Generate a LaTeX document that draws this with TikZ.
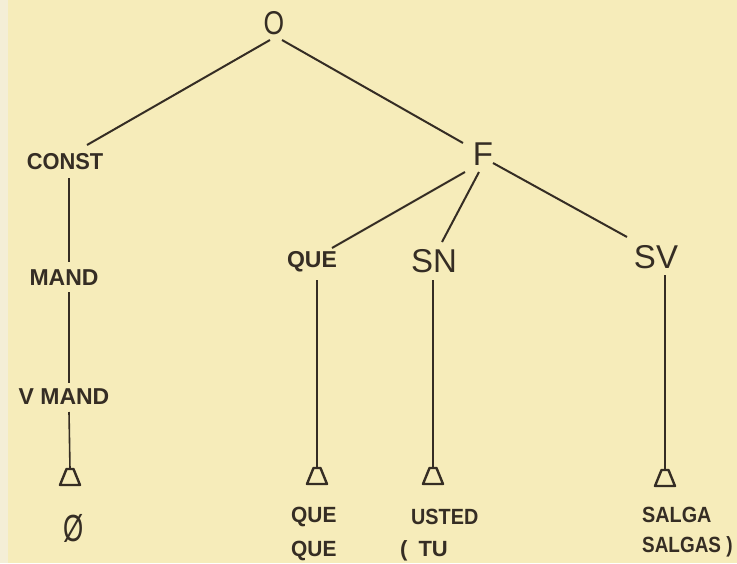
\documentclass[tikz,border=0pt]{standalone}
\usepackage{fontspec}
\setmainfont{Liberation Sans}
\usetikzlibrary{calc}
\definecolor{paper}{HTML}{F6ECBA}
\definecolor{paperedge}{HTML}{F4EED6}
\definecolor{ink}{HTML}{352D24}
\newcommand\mytri[2]{%
  \coordinate (#1) at (#2);
  \draw[tribox] ($(#1)+(-3.5,0)$) -- ($(#1)+(3.5,0)$) -- ($(#1)+(10,16)$) -- ($(#1)+(-10,16)$) -- cycle;}
\begin{document}
\begin{tikzpicture}[x=1pt,y=-1pt,
  big/.style={font=\fontsize{33}{33}\selectfont, text=ink, inner sep=0pt},
  mid/.style={font=\bfseries\fontsize{23}{23}\selectfont, text=ink, inner sep=0pt},
  leaf/.style={font=\bfseries\fontsize{22}{22}\selectfont, text=ink, inner sep=0pt, anchor=west},
  branch/.style={draw=ink, line width=2pt},
  stem/.style={draw=ink, line width=1.6pt},
  tribox/.style={draw=ink, line width=2.4pt, line join=round}]
\fill[paper] (0,0) rectangle (737,563);
\fill[paperedge] (0,0) rectangle (8,563);
\useasboundingbox (0,0) rectangle (737,563);

\node[big] (O) at (274,23) {\scalebox{0.8}[1]{O}};
\node[mid] (CONST) at (65,162) {\scalebox{0.95}[1]{CONST}};
\node[big] (F) at (483,154) {F};
\node[mid] (QUE) at (312,262) {QUE};
\node[big] (SN) at (434,261) {SN};
\node[big] (SV) at (656,257) {SV};
\node[mid] (MAND) at (64,278) {MAND};
\node[mid] (VMAND) at (64,397) {V MAND};

\mytri{t1}{70,469}
\mytri{t2}{317,468}
\mytri{t3}{433,468}
\mytri{t4}{665,470}

\node[font=\fontsize{36}{36}\selectfont, text=ink, inner sep=0pt] (null) at (74,528) {\scalebox{0.72}[1.05]{Ø}};

\node[leaf] (q1) at (291,517) {\scalebox{0.95}[1]{QUE}};
\node[leaf] (q2) at (291,551) {\scalebox{0.95}[1]{QUE}};
\node[leaf] (u1) at (411,517) {\scalebox{0.9}[1]{USTED}};
\node[leaf] (u2) at (400,551) {(\hspace{11pt}TU};
\node[leaf] (s1) at (642,515) {\scalebox{0.9}[1]{SALGA}};
\node[leaf] (s2) at (642,547) {\scalebox{0.86}[1]{SALGAS )}};

\draw[branch] ($(O)+(-4,17)$) -- ($(CONST)+(22,-17)$);
\draw[branch] ($(O)+(8,17)$) -- ($(F)+(-20,-11)$);
\draw[branch] ($(F)+(-18,18)$) -- ($(QUE)+(20,-14)$);
\draw[branch] ($(F)+(-4,18)$) -- ($(SN)+(8,-19)$);
\draw[branch] ($(F)+(10,9)$) -- ($(SV)+(-29,-20)$);

\draw[stem] ($(CONST)+(4,16)$) -- ($(MAND)+(5,-16)$);
\draw[stem] ($(MAND)+(5,14)$) -- ($(VMAND)+(5,-14)$);
\draw[stem] ($(VMAND)+(5,15)$) -- (t1);
\draw[stem] ($(QUE)+(5,18)$) -- (t2);
\draw[stem] ($(SN)+(-1,19)$) -- (t3);
\draw[stem] ($(SV)+(9,18)$) -- (t4);
\end{tikzpicture}
\end{document}
